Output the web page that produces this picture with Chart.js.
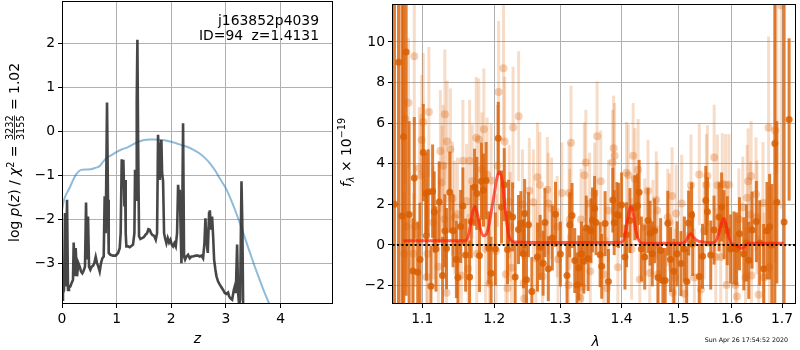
<!DOCTYPE html>
<html>
<head>
<meta charset="utf-8">
<script src="https://cdn.jsdelivr.net/npm/chart.js@4.4.0/dist/chart.umd.min.js"></script>
<style>
body { margin: 0; background: #fff; }
#wrap { position: relative; width: 800px; height: 350px; }
canvas { position: absolute; top: 0; }
</style>
</head>
<body>
<div id="wrap">
  <canvas id="pzChart" width="335" height="350" style="left:0"></canvas>
  <canvas id="specChart" width="465" height="350" style="left:335px"></canvas>
</div>
<script>
// ticks
var zTicks = [0, 1, 2, 3, 4];
var logpTicks = [-3, -2, -1, 0, 1, 2];
var lamTicks = [1.1, 1.2, 1.3, 1.4, 1.5, 1.6, 1.7];
var fluxTicks = [-2, 0, 2, 4, 6, 8, 10];

// p(z) panel : smooth (blue) curve
var zBlue = [0.00, 0.03, 0.06, 0.10, 0.15, 0.20, 0.25, 0.30, 0.35, 0.45, 0.55, 0.62, 0.68, 0.75, 0.82, 0.90,
  1.00, 1.10, 1.20, 1.30, 1.40, 1.50, 1.60, 1.70, 1.80, 1.90, 2.00, 2.10, 2.20, 2.30, 2.40, 2.50,
  2.60, 2.70, 2.80, 2.90, 3.00, 3.10, 3.20, 3.30, 3.40, 3.50, 3.60, 3.70, 3.80, 3.88];
var chiBlue = [-1.80, -1.60, -1.48, -1.38, -1.26, -1.12, -1.00, -0.92, -0.88, -0.87, -0.86, -0.83, -0.80, -0.70, -0.60, -0.55,
  -0.47, -0.41, -0.37, -0.30, -0.24, -0.20, -0.19, -0.19, -0.20, -0.21, -0.24, -0.28, -0.32, -0.36, -0.42, -0.49,
  -0.59, -0.72, -0.89, -1.10, -1.30, -1.58, -1.90, -2.25, -2.62, -2.98, -3.32, -3.65, -3.95, -4.20];

// p(z) panel : log p(z) (dark)
var zDark = [0.000, 0.018, 0.037, 0.055, 0.073, 0.092, 0.110, 0.128, 0.153, 0.177, 0.201, 0.214, 0.232, 0.250, 0.275, 0.299,
  0.324, 0.348, 0.372, 0.397, 0.421, 0.440, 0.458, 0.476, 0.495, 0.519, 0.543, 0.568, 0.592, 0.617, 0.641, 0.665,
  0.690, 0.714, 0.739, 0.763, 0.781, 0.800, 0.824, 0.842, 0.855, 0.885, 0.934, 0.983, 1.026, 1.056, 1.074, 1.093,
  1.111, 1.123, 1.142, 1.154, 1.166, 1.178, 1.209, 1.239, 1.270, 1.300, 1.325, 1.337, 1.355, 1.368, 1.380, 1.392,
  1.410, 1.435, 1.465, 1.496, 1.526, 1.557, 1.581, 1.606, 1.630, 1.654, 1.685, 1.716, 1.740, 1.758, 1.777, 1.789,
  1.807, 1.819, 1.832, 1.850, 1.868, 1.886, 1.911, 1.935, 1.960, 1.984, 2.009, 2.033, 2.057, 2.082, 2.106, 2.125,
  2.143, 2.155, 2.173, 2.186, 2.198, 2.216, 2.234, 2.253, 2.277, 2.308, 2.338, 2.369, 2.399, 2.448, 2.491, 2.521,
  2.552, 2.582, 2.607, 2.625, 2.643, 2.668, 2.692, 2.705, 2.729, 2.747, 2.766, 2.784, 2.808, 2.827, 2.857, 2.888,
  2.918, 2.949, 2.979, 3.010, 3.040, 3.059, 3.083, 3.114, 3.144, 3.162, 3.181, 3.205, 3.223, 3.242, 3.260, 3.285,
  3.303, 3.315, 3.333, 3.350];
var logpDark = [-3.83, -3.68, -3.61, -1.86, -3.53, -1.56, -3.61, -3.55, -3.53, -3.45, -3.38, -2.53, -3.30, -2.66, -3.30, -3.00,
  -3.08, -3.19, -3.23, -3.17, -3.08, -1.62, -2.92, -1.94, -3.08, -3.15, -3.08, -3.06, -3.00, -2.86, -3.00, -3.08,
  -3.19, -3.00, -2.89, -2.85, -1.48, -2.32, 0.65, -1.56, -2.77, -2.81, -2.83, -2.83, -2.77, -2.66, -2.32, -0.64,
  -1.26, -0.65, -1.71, -1.11, -2.32, -2.62, -2.62, -2.64, -2.61, -2.58, -2.32, -0.88, -1.56, 0.71, 2.08, -0.05,
  -2.39, -2.45, -2.43, -2.41, -2.36, -2.32, -2.23, -2.24, -2.32, -2.36, -2.38, -2.47, -2.32, -0.08, -0.65, -1.11,
  -0.35, -0.20, -0.95, -1.14, -2.32, -2.43, -2.55, -2.43, -2.53, -2.47, -2.58, -2.62, -2.55, -2.62, -2.32, -1.22,
  -1.56, -1.33, -2.32, -3.00, -2.32, 0.18, -2.85, -2.92, -2.85, -2.81, -2.89, -2.85, -2.85, -2.83, -2.83, -2.85,
  -2.83, -2.89, -2.55, -1.98, -2.47, -2.77, -1.86, -1.80, -2.24, -1.94, -2.39, -2.92, -3.15, -3.30, -3.42, -3.49,
  -3.55, -3.61, -3.68, -3.70, -3.67, -3.76, -3.80, -3.83, -3.61, -3.53, -3.68, -2.58, -3.68, -3.95, -3.83, -1.14,
  -2.32, -3.98, -4.06, -4.50];

// spectrum panel : dark points (lambda, flux, error)
var lamDark = [1.0636, 1.0688, 1.0732, 1.0753, 1.0787, 1.0826, 1.0875, 1.0894, 1.0939, 1.0970, 1.1013, 1.1045, 1.1055, 1.1079,
  1.1115, 1.1138, 1.1160, 1.1183, 1.1227, 1.1273, 1.1304, 1.1327, 1.1372, 1.1417, 1.1463, 1.1485, 1.1522, 1.1554,
  1.1592, 1.1648, 1.1671, 1.1718, 1.1750, 1.1788, 1.1816, 1.1845, 1.1883, 1.1921, 1.1955, 1.2016, 1.2059, 1.2107,
  1.2146, 1.2195, 1.2210, 1.2270, 1.2308, 1.2358, 1.2394, 1.2433, 1.2450, 1.2478, 1.2508, 1.2559, 1.2645, 1.2686,
  1.2732, 1.2760, 1.2812, 1.2874, 1.2924, 1.3000, 1.3105, 1.3148, 1.3185, 1.3228, 1.3265, 1.3293, 1.3336, 1.3374,
  1.3414, 1.3444, 1.3491, 1.3516, 1.3550, 1.3573, 1.3641, 1.3667, 1.3723, 1.3779, 1.3852, 1.3875, 1.3920, 1.3949,
  1.4000, 1.4057, 1.4084, 1.4142, 1.4226, 1.4270, 1.4300, 1.4339, 1.4397, 1.4454, 1.4490, 1.4530, 1.4571, 1.4630,
  1.4677, 1.4717, 1.4758, 1.4805, 1.4853, 1.4913, 1.4972, 1.5043, 1.5104, 1.5147, 1.5182, 1.5238, 1.5257, 1.5379,
  1.5440, 1.5501, 1.5532, 1.5594, 1.5657, 1.5752, 1.5801, 1.5847, 1.5910, 1.5973, 1.6038, 1.6088, 1.6146, 1.6231,
  1.6282, 1.6329, 1.6394, 1.6479, 1.6546, 1.6626, 1.6692, 1.6746, 1.6792, 1.6852, 1.6893, 1.7042, 1.7145];
var fluxDark = [2.0, 9.0, 1.43, 5.33, 9.5, 1.5, -1.29, 3.3, -1.35, -0.72, 4.55, 2.54, 0.45, 2.61,
  -2.03, 2.65, 1.62, -0.2, 2.11, -1.5, 0.7, -0.18, 2.6, 0.7, -0.72, -1.6, 0.91, 1.92,
  -0.5, -1.58, 1.15, 2.84, 2.54, -0.52, 3.14, 2.7, 3.17, -0.15, -1.4, -0.2, 5.25, 1.87,
  2.97, -0.23, 1.51, 1.38, -1.58, 0.76, 1.05, -0.44, 1.55, -1.71, 1.0, -2.3, -0.6, -0.12,
  -0.9, 1.1, -1.17, 0.34, 1.51, -0.45, -1.5, 0.99, 1.45, -0.77, -1.97, -1.13, -0.45, -0.8,
  0.83, -0.67, 0.7, 1.23, 1.8, 1.1, -0.48, -1.05, 1.05, -1.8, 2.21, 1.1, 1.5, 1.45,
  1.97, -0.6, 0.5, 1.2, 1.83, 1.92, 2.59, -0.2, -0.6, 1.2, 0.58, -0.44, 0.7, -1.6,
  -0.28, -1.75, -1.75, 1.07, -0.72, -1.3, -0.44, -0.92, -0.2, -1.8, 1.08, 1.48, 0.07, -1.55,
  -0.56, 2.19, 1.63, -0.5, 0.73, 1.38, 1.87, 1.0, 0.7, -0.2, -0.15, -0.2, 0.55, -0.44,
  0.1, -0.76, 0.73, 1.15, 0.1, -1.17, 0.7, 0.9, 0.0, 5.0, 2.1, 1.13, 6.18];
var errDark = [14, 13, 13, 12, 12, 4.6, 2.6, 3.0, 2.5, 2.8, 2.4, 2.0, 2.2, 2.1,
  2.0, 2.3, 2.0, 2.1, 2.0, 1.9, 1.8, 2.0, 2.0, 1.8, 1.9, 1.8, 1.8, 1.9,
  1.8, 1.8, 1.8, 1.9, 1.8, 1.8, 1.9, 1.8, 1.9, 1.8, 1.8, 1.8, 1.8, 1.8,
  1.8, 1.7, 1.7, 1.7, 1.7, 1.7, 1.6, 1.7, 1.7, 1.7, 1.6, 1.7, 1.7, 1.6,
  1.6, 1.7, 1.6, 1.6, 1.6, 1.6, 1.6, 1.6, 1.6, 1.6, 1.6, 1.6, 1.6, 1.6,
  1.6, 1.6, 1.6, 1.6, 1.6, 1.6, 1.6, 1.6, 1.6, 1.6, 1.6, 1.6, 1.6, 1.6,
  1.6, 1.6, 1.6, 1.6, 1.6, 1.6, 1.6, 1.6, 1.6, 1.6, 1.6, 1.6, 1.6, 1.6,
  1.6, 1.6, 1.6, 1.6, 1.6, 1.6, 1.6, 1.6, 1.6, 1.6, 1.6, 1.6, 1.6, 1.6,
  1.6, 1.7, 1.7, 1.7, 1.7, 1.7, 1.7, 1.7, 1.7, 1.7, 1.8, 1.8, 1.8, 1.8,
  1.9, 1.9, 1.9, 2.0, 2.1, 2.2, 2.4, 2.6, 3.0, 8.0, 4.0, 12, 4.0];

// spectrum panel : faint points (lambda, flux, error)
var lamLight = [1.0764, 1.0775, 1.0787, 1.0817, 1.0884, 1.0894, 1.0903, 1.0961, 1.0983, 1.0992, 1.1013, 1.1058, 1.1069,
  1.1088, 1.1146, 1.1216, 1.1243, 1.1265, 1.1281, 1.1297, 1.1304, 1.1327, 1.1335, 1.1381, 1.1408, 1.1440, 1.1478,
  1.1532, 1.1554, 1.1606, 1.1627, 1.1648, 1.1685, 1.1742, 1.1750, 1.1778, 1.1822, 1.1851, 1.1875, 1.1897, 1.1930,
  1.1955, 1.2026, 1.2049, 1.2064, 1.2136, 1.2153, 1.2170, 1.2194, 1.2220, 1.2235, 1.2254, 1.2277, 1.2360, 1.2418,
  1.2435, 1.2443, 1.2520, 1.2583, 1.2620, 1.2645, 1.2681, 1.2721, 1.2797, 1.2812, 1.2862, 1.2949, 1.2964, 1.3024,
  1.3127, 1.3138, 1.3148, 1.3169, 1.3320, 1.3330, 1.3346, 1.3382, 1.3407, 1.3468, 1.3479, 1.3550, 1.3591, 1.3651,
  1.3700, 1.3755, 1.3779, 1.3848, 1.3865, 1.3882, 1.3937, 1.4084, 1.4113, 1.4170, 1.4197, 1.4226, 1.4282, 1.4311,
  1.4397, 1.4454, 1.4484, 1.4541, 1.4599, 1.4616, 1.4630, 1.4805, 1.4835, 1.4882, 1.4895, 1.4936, 1.4955, 1.5056,
  1.5104, 1.5196, 1.5226, 1.5288, 1.5379, 1.5410, 1.5470, 1.5513, 1.5532, 1.5659, 1.5689, 1.5720, 1.5783, 1.5814,
  1.5877, 1.5896, 1.5910, 1.5941, 1.6066, 1.6097, 1.6134, 1.6212, 1.6264, 1.6296, 1.6316, 1.6362, 1.6375, 1.6384,
  1.6472, 1.6492, 1.6525, 1.6612, 1.6632, 1.6725, 1.6741, 1.6859, 1.6893, 1.6983];
var fluxLight = [-0.44, 6.2, 0.92, 7.0, -0.44, 9.3, 0.92, 3.79, 3.43, 5.17, 6.06, -1.58, -0.44,
  6.55, 1.1, -1.08, 4.63, 3.08, 3.9, 1.27, 6.44, -2.36, 5.09, 4.71, 2.29, 1.35, 1.51,
  -1.5, 4.15, 2.17, -1.17, 4.15, 3.14, 5.28, -0.44, 5.2, 3.73, 5.7, -0.2, 3.47, -1.9,
  3.17, -0.3, 3.9, 7.53, 8.7, 5.09, -1.44, -2.13, 2.13, 0.9, -1.13, 5.78, 6.34, 2.0,
  -1.89, -2.64, 2.67, 2.1, -0.65, 3.33, 2.96, -1.55, 2.72, 2.04, 1.8, 0.9, -0.7, 2.56,
  -1.98, 2.56, 1.25, 5.04, -2.62, 1.25, -2.06, 3.43, 4.06, 2.04, -1.3, 2.54, 5.36, 3.14,
  -1.46, -2.13, 1.7, 4.06, 4.76, 4.39, -1.1, 3.56, 3.43, -0.2, 4.39, 3.25, 3.7, -1.7,
  0.88, 2.67, -1.38, 0.8, 2.21, 1.7, -1.45, 1.36, 1.12, 2.41, -2.36, -1.6, 1.55, 2.04,
  -2.4, 0.46, 2.94, -1.6, 3.47, -2.2, 0.7, 2.96, 3.4, 4.31, -0.6, 2.94, -0.6, 3.0,
  2.96, -1.98, 0.5, 2.96, -1.98, -2.54, 1.27, 1.86, -1.6, 2.33, 3.14, 1.5, 3.4, -1.5,
  2.5, 1.36, -2.46, 2.07, -1.6, 5.77, -1.1, 5.64, 12.5, 11.8];
var errLight = [3.0, 3.2, 3.0, 3.2, 3.0, 3.4, 3.0, 3.0, 3.0, 3.2, 3.4, 2.8, 2.8,
  3.2, 2.8, 2.8, 3.0, 2.8, 3.0, 2.8, 3.2, 2.8, 3.0, 3.0, 2.8, 2.8, 2.8,
  2.7, 3.0, 2.8, 2.7, 3.0, 2.8, 3.0, 2.7, 3.0, 2.8, 3.0, 2.7, 2.8, 2.7,
  2.8, 2.8, 3.0, 3.5, 3.6, 3.2, 2.8, 2.8, 2.8, 2.7, 2.7, 3.0, 3.2, 2.7,
  2.6, 2.6, 2.6, 2.6, 2.6, 2.7, 2.6, 2.6, 2.6, 2.5, 2.5, 2.5, 2.5, 2.5,
  2.5, 2.5, 2.5, 2.8, 2.5, 2.5, 2.5, 2.6, 2.6, 2.5, 2.5, 2.5, 2.7, 2.5,
  2.5, 2.5, 2.5, 2.6, 2.6, 2.6, 2.5, 2.5, 2.5, 2.5, 2.6, 2.5, 2.5, 2.5,
  2.4, 2.5, 2.4, 2.4, 2.4, 2.4, 2.4, 2.4, 2.4, 2.4, 2.4, 2.4, 2.4, 2.4,
  2.4, 2.4, 2.5, 2.4, 2.5, 2.4, 2.4, 2.5, 2.5, 2.6, 2.4, 2.5, 2.4, 2.5,
  2.5, 2.4, 2.4, 2.5, 2.5, 2.5, 2.5, 2.5, 2.5, 2.6, 2.6, 2.6, 2.7, 2.7,
  2.8, 2.8, 2.9, 3.0, 3.2, 4.5, 4.0, 6.5, 9.0, 10.0];

// spectrum panel : model
var lamModel = [1.075, 1.100, 1.130, 1.155, 1.160, 1.164, 1.168, 1.172, 1.176, 1.180, 1.184, 1.188, 1.192, 1.196,
  1.200, 1.204, 1.208, 1.212, 1.216, 1.220, 1.224, 1.230, 1.300, 1.360, 1.400, 1.405, 1.410, 1.415, 1.420,
  1.425, 1.430, 1.435, 1.500, 1.512, 1.518, 1.522, 1.528, 1.535, 1.545, 1.560, 1.568, 1.575, 1.580, 1.585,
  1.590, 1.595, 1.600, 1.608, 1.615, 1.620, 1.625, 1.632, 1.660, 1.703];
var fluxModel = [0.2, 0.2, 0.2, 0.2, 0.22, 0.6, 1.4, 1.9, 1.5, 0.8, 0.45, 0.5, 0.9, 1.7,
  2.5, 3.3, 3.6, 3.1, 1.8, 0.7, 0.25, 0.15, 0.12, 0.12, 0.13, 0.4, 1.2, 1.9, 1.5,
  0.6, 0.2, 0.1, 0.08, 0.15, 0.45, 0.55, 0.35, 0.2, 0.15, 0.1, 0.15, 0.6, 1.1, 1.3,
  0.8, 0.3, 0.05, -0.02, -0.12, -0.18, -0.05, 0.08, 0.08, 0.08];

var FONT = 'DejaVu Sans';
var FS = 13.9;

function pairs(xs, ys) {
  return xs.map(function (x, i) { return { x: x, y: ys[i] }; });
}
function minus(v) { return String(v).replace('-', '\u2212'); }

function tickOpts(cb) {
  return { color: '#000', font: { family: FONT, size: FS }, padding: 3, maxRotation: 0, autoSkip: false, callback: cb };
}
var gridOpts = { color: '#b0b0b0', lineWidth: 1, tickColor: '#000', tickLength: 4, tickWidth: 1 };

// no extra room for half labels at the ends of the axes
function fixBox(size) {
  return function (s) {
    if (s.isHorizontal()) s.height = size; else s.width = size;
    s.paddingTop = 0; s.paddingBottom = 0; s.paddingLeft = 0; s.paddingRight = 0;
  };
}

// error bars drawn just under their own points
var errorBars = {
  id: 'errorBars',
  beforeDatasetDraw: function (chart, args) {
    var ds = chart.data.datasets[args.index];
    if (!ds.errs) return;
    var ctx = chart.ctx, a = chart.chartArea, x = chart.scales.x, y = chart.scales.y;
    ctx.save();
    ctx.beginPath();
    ctx.rect(a.left, a.top, a.right - a.left, a.bottom - a.top);
    ctx.clip();
    ctx.strokeStyle = ds.errColor;
    ctx.lineWidth = ds.errWidth;
    ds.data.forEach(function (p, i) {
      var px = x.getPixelForValue(p.x);
      ctx.beginPath();
      ctx.moveTo(px, y.getPixelForValue(p.y - ds.errs[i]));
      ctx.lineTo(px, y.getPixelForValue(p.y + ds.errs[i]));
      ctx.stroke();
    });
    ctx.restore();
  }
};

var frame = {
  id: 'frame',
  afterDraw: function (chart) {
    var ctx = chart.ctx, a = chart.chartArea;
    ctx.save();
    ctx.strokeStyle = '#000';
    ctx.lineWidth = 1;
    ctx.strokeRect(a.left + 0.5, a.top + 0.5, a.right - a.left - 1, a.bottom - a.top - 1);
    ctx.restore();
  }
};

// little mathtext-like writer: pieces laid out along a baseline
function drawPieces(ctx, pieces, cx, cy, rotate) {
  var total = 0;
  pieces.forEach(function (p) {
    ctx.font = p.font;
    if (p.frac) {
      p.w = Math.max(ctx.measureText(p.frac[0]).width, ctx.measureText(p.frac[1]).width) + 2;
    } else {
      p.w = ctx.measureText(p.t).width;
    }
    total += p.w;
  });
  ctx.save();
  ctx.translate(cx, cy);
  if (rotate) ctx.rotate(-Math.PI / 2);
  ctx.fillStyle = '#000';
  ctx.textBaseline = 'alphabetic';
  var x = -total / 2;
  pieces.forEach(function (p) {
    ctx.font = p.font;
    if (p.frac) {
      ctx.textAlign = 'center';
      ctx.fillText(p.frac[0], x + p.w / 2, -6.5);
      ctx.fillText(p.frac[1], x + p.w / 2, 4.5);
      ctx.fillRect(x + 1, -5, p.w - 2, 0.8);
    } else {
      ctx.textAlign = 'left';
      ctx.fillText(p.t, x, p.dy || 0);
    }
    x += p.w;
  });
  ctx.restore();
}

var rm = FS + 'px ' + FONT;
var it = 'italic ' + FS + 'px ' + FONT;
var sm = (FS * 0.7).toFixed(1) + 'px ' + FONT;
var smit = 'italic ' + (FS * 0.7).toFixed(1) + 'px ' + FONT;

var leftText = {
  id: 'leftText',
  afterDraw: function (chart) {
    var ctx = chart.ctx;
    drawPieces(ctx, [
      { t: 'log ', font: rm }, { t: 'p', font: it }, { t: '(', font: rm }, { t: 'z', font: it },
      { t: ') / ', font: rm }, { t: '\u03c7', font: it }, { t: '2', font: sm, dy: -5.5 },
      { t: ' = ', font: rm }, { frac: ['3232', '3155'], font: sm }, { t: ' = 1.02', font: rm }
    ], 19, 152.5, true);
    drawPieces(ctx, [{ t: 'z', font: it }], 197.5, 343, false);
    ctx.save();
    ctx.font = rm;
    ctx.fillStyle = '#000';
    ctx.textAlign = 'right';
    ctx.fillText('j163852p4039', 319, 25);
    ctx.fillText('z=1.4131', 319, 40);
    ctx.textAlign = 'left';
    ctx.fillText('ID=94', 199, 40);
    ctx.restore();
  }
};

var rightText = {
  id: 'rightText',
  afterDraw: function (chart) {
    var ctx = chart.ctx;
    drawPieces(ctx, [
      { t: 'f', font: it }, { t: '\u03bb', font: smit, dy: 3 }, { t: ' \u00d7 10', font: rm },
      { t: '\u221219', font: sm, dy: -6 }
    ], 16, 152.5, true);
    drawPieces(ctx, [{ t: '\u03bb', font: it }], 260.5, 346, false);
    ctx.save();
    ctx.font = '6.3px ' + FONT;
    ctx.fillStyle = '#000';
    ctx.textAlign = 'right';
    ctx.fillText('Sun Apr 26 17:54:52 2020', 453, 342);
    ctx.restore();
  }
};

new Chart('pzChart', {
  type: 'line',
  data: {
    datasets: [
      { data: pairs(zDark, logpDark), borderColor: 'rgba(51,51,51,0.9)', borderWidth: 2.6, pointRadius: 0, tension: 0 },
      { data: pairs(zBlue, chiBlue), borderColor: 'rgba(31,119,180,0.5)', borderWidth: 2, pointRadius: 0, cubicInterpolationMode: 'monotone' }
    ]
  },
  options: {
    responsive: false,
    animation: false,
    devicePixelRatio: 1,
    layout: { padding: { top: 1, right: 2, left: 0, bottom: 0 } },
    plugins: { legend: { display: false }, tooltip: { enabled: false } },
    scales: {
      x: {
        type: 'linear', min: 0, max: 4.96,
        afterBuildTicks: function (s) { s.ticks = zTicks.map(function (v) { return { value: v }; }); },
        afterFit: fixBox(46),
        grid: gridOpts, border: { display: false },
        ticks: tickOpts(function (v) { return minus(v); })
      },
      y: {
        type: 'linear', min: -3.93, max: 2.96,
        afterBuildTicks: function (s) { s.ticks = logpTicks.map(function (v) { return { value: v }; }); },
        afterFit: fixBox(62),
        grid: gridOpts, border: { display: false },
        ticks: tickOpts(function (v) { return minus(v); })
      }
    }
  },
  plugins: [frame, leftText]
});

// first dataset is drawn on top
new Chart('specChart', {
  type: 'scatter',
  data: {
    datasets: [
      { data: pairs([1.05, 1.74], [0, 0]), showLine: true, borderColor: '#000', borderWidth: 2, borderDash: [2, 2.4], pointRadius: 0 },
      { data: pairs(lamModel, fluxModel), showLine: true, borderColor: 'rgba(255,30,10,0.7)', borderWidth: 3, pointRadius: 0, cubicInterpolationMode: 'monotone' },
      { data: pairs(lamDark, fluxDark), errs: errDark, errColor: 'rgba(217,95,2,0.8)', errWidth: 3,
        pointRadius: 3.5, backgroundColor: 'rgba(217,95,2,0.85)', borderWidth: 0 },
      { data: pairs(lamLight, fluxLight), errs: errLight, errColor: 'rgba(217,95,2,0.22)', errWidth: 3,
        pointRadius: 4, backgroundColor: 'rgba(217,95,2,0.3)', borderWidth: 0 }
    ]
  },
  options: {
    responsive: false,
    animation: false,
    devicePixelRatio: 1,
    layout: { padding: { top: 1, right: 1, left: 0, bottom: 0 } },
    plugins: { legend: { display: false }, tooltip: { enabled: false } },
    scales: {
      x: {
        type: 'logarithmic', min: 1.0604, max: 1.7289,
        afterBuildTicks: function (s) { s.ticks = lamTicks.map(function (v) { return { value: v }; }); },
        afterFit: fixBox(46),
        grid: gridOpts, border: { display: false },
        ticks: tickOpts(function (v) { return Number(v).toFixed(1); })
      },
      y: {
        type: 'linear', min: -2.91, max: 11.87,
        afterBuildTicks: function (s) { s.ticks = fluxTicks.map(function (v) { return { value: v }; }); },
        afterFit: fixBox(57),
        grid: gridOpts, border: { display: false },
        ticks: tickOpts(function (v) { return minus(v); })
      }
    }
  },
  plugins: [errorBars, frame, rightText]
});
</script>
</body>
</html>
